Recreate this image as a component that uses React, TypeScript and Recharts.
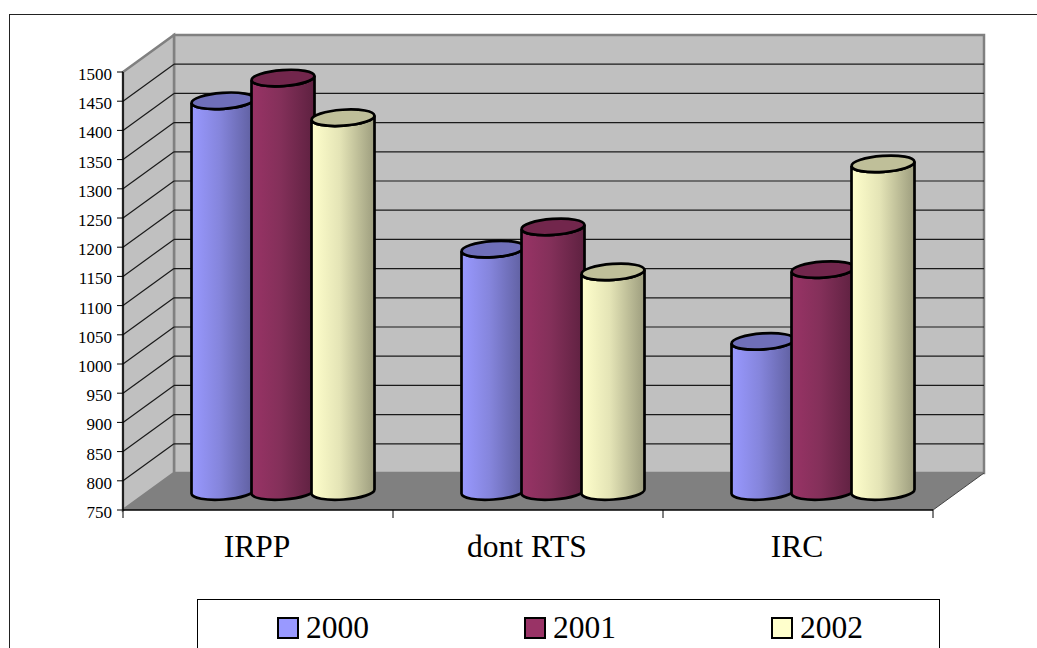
import { Bar, BarChart, CartesianGrid, XAxis, YAxis, usePlotArea } from 'recharts';

const categories = ['IRPP', 'dont RTS', 'IRC'];
const values2000 = [1419, 1165, 1007];
const values2001 = [1458, 1203, 1130];
const values2002 = [1390, 1126, 1311];
const yTicks = [750, 800, 850, 900, 950, 1000, 1050, 1100, 1150, 1200, 1250, 1300, 1350, 1400, 1450, 1500];
const years = ['2000', '2001', '2002'];

const data = categories.map((name, i) => ({
    name,
    y2000: values2000[i],
    y2001: values2001[i],
    y2002: values2002[i],
}));

const FONT = '"Liberation Serif", serif';
const DEPTH_X = 51;
const DEPTH_Y = 37;
const seriesColors = ['#9999FF', '#993366', '#FFFFCC'];
const seriesMid = ['#8585DC', '#84305A', '#E4E4B6'];
const seriesDark = ['#5E5E9E', '#5E2140', '#9D9D7E'];
const topColors = ['#6F6FB9', '#72264C', '#BFBF99'];

// back wall, side wall and floor of the 3D box
const Walls = () => {
    const area = usePlotArea();
    if (!area) return null;
    const { x, y, width, height } = area;
    const bottom = y + height;
    const right = x + width;
    return (
        <g>
            <polygon
                points={`${x + DEPTH_X},${y - DEPTH_Y} ${right + DEPTH_X},${y - DEPTH_Y} ${right + DEPTH_X},${bottom - DEPTH_Y} ${x + DEPTH_X},${bottom - DEPTH_Y}`}
                fill="#C0C0C0"
                stroke="#808080"
                strokeWidth={2.5}
            />
            <polygon
                points={`${x},${y} ${x + DEPTH_X},${y - DEPTH_Y} ${x + DEPTH_X},${bottom - DEPTH_Y} ${x},${bottom}`}
                fill="#C0C0C0"
                stroke="#808080"
                strokeWidth={2.5}
            />
            <polygon
                points={`${x},${bottom} ${x + DEPTH_X},${bottom - DEPTH_Y} ${right + DEPTH_X},${bottom - DEPTH_Y} ${right},${bottom}`}
                fill="#808080"
            />
            <line x1={right} y1={bottom} x2={right + DEPTH_X} y2={bottom - DEPTH_Y} stroke="#444" strokeWidth={1} />
        </g>
    );
};

// one grid line: diagonal on the side wall, then across the back wall
const gridLine = (props: any) => {
    const { x1, x2, y1, index } = props;
    if (index === 0 || index === yTicks.length - 1 || y1 === undefined) return <g key={`grid-${index}`} />;
    return (
        <g key={`grid-${y1}`} stroke="#1a1a1a" strokeWidth={1.2}>
            <line x1={x1} y1={y1} x2={x1 + DEPTH_X} y2={y1 - DEPTH_Y} />
            <line x1={x1 + DEPTH_X} y1={y1 - DEPTH_Y} x2={x2 + DEPTH_X} y2={y1 - DEPTH_Y} />
        </g>
    );
};

const cylinder = (seriesIndex: number) => (props: any) => {
    const { x, y, width, height } = props;
    const cx = x + width / 2 + 25;
    const top = y - 18.5;
    const base = y + height - 18.5;
    const rx = 31.5;
    const ry = 8;
    const tilt = 2.2;
    const body = `M${cx - rx},${top + tilt} L${cx - rx},${base + tilt} A${rx},${ry} -4 0 0 ${cx + rx},${base - tilt} L${cx + rx},${top - tilt} A${rx},${ry} -4 0 1 ${cx - rx},${top + tilt} Z`;
    return (
        <g stroke="#000" strokeWidth={2.7}>
            <path d={body} fill={`url(#grad${seriesIndex})`} />
            <ellipse cx={cx} cy={top} rx={rx} ry={ry} transform={`rotate(-4 ${cx} ${top})`} fill={topColors[seriesIndex]} />
        </g>
    );
};

// category label plus the tick marks, which sit on the band edges
const CategoryTick = (props: any) => {
    const { x, y, payload, index, width } = props;
    const band = width / categories.length;
    const left = x - band / 2;
    return (
        <g>
            <line x1={left} y1={y - 8} x2={left} y2={y} stroke="#000" />
            {index === categories.length - 1 && <line x1={left + band} y1={y - 8} x2={left + band} y2={y} stroke="#000" />}
            <text x={x - 1} y={y + 39} textAnchor="middle" fontFamily={FONT} fontSize={31.5} fill="#000">
                {payload.value}
            </text>
        </g>
    );
};

export default function App() {
    return (
        <div style={{ position: 'fixed', left: 0, top: 0, width: 1037, height: 648, overflow: 'hidden', background: '#fff' }}>
            <div style={{ position: 'absolute', left: 9, top: 14, width: 1040, height: 660, borderLeft: '1.5px solid #222', borderTop: '1.5px solid #222' }} />
            <div style={{ position: 'absolute', left: 0, top: 0 }}>
                <BarChart
                    width={1037}
                    height={648}
                    data={data}
                    margin={{ top: 72, right: 104, bottom: 108, left: 73 }}
                    barCategoryGap={45}
                    barGap={0}
                    style={{ background: 'transparent' }}
                >
                    <defs>
                        {years.map((year, i) => (
                            <linearGradient key={year} id={`grad${i}`} x1="0" y1="0" x2="1" y2="0">
                                <stop offset="0%" stopColor={seriesColors[i]} />
                                <stop offset="45%" stopColor={seriesMid[i]} />
                                <stop offset="100%" stopColor={seriesDark[i]} />
                            </linearGradient>
                        ))}
                    </defs>
                    <Walls />
                    <CartesianGrid vertical={false} horizontal={gridLine} zIndex={1} />
                    <XAxis
                        dataKey="name"
                        height={30}
                        interval={0}
                        tickLine={false}
                        axisLine={{ stroke: '#000', strokeWidth: 1.5 }}
                        tick={<CategoryTick />}
                    />
                    <YAxis
                        width={50}
                        type="number"
                        domain={[750, 1500]}
                        ticks={yTicks}
                        interval={0}
                        tickSize={6}
                        tickMargin={5}
                        axisLine={{ stroke: '#000', strokeWidth: 1.5 }}
                        tickLine={{ stroke: '#000' }}
                        tick={{ fontFamily: FONT, fontSize: 17, fill: '#000', dy: 2 }}
                    />
                    <Bar dataKey="y2000" fill={seriesColors[0]} shape={cylinder(0)} isAnimationActive={false} />
                    <Bar dataKey="y2001" fill={seriesColors[1]} shape={cylinder(1)} isAnimationActive={false} />
                    <Bar dataKey="y2002" fill={seriesColors[2]} shape={cylinder(2)} isAnimationActive={false} />
                </BarChart>
            </div>
            <div style={{ position: 'absolute', left: 197, top: 599, width: 741, height: 80, border: '1px solid #000', background: '#fff' }}>
                {years.map((year, i) => (
                    <div key={year} style={{ position: 'absolute', left: 79 + i * 247, top: 9, display: 'flex', alignItems: 'center', fontFamily: FONT, fontSize: 31.5, lineHeight: '38px' }}>
                        <span style={{ display: 'inline-block', width: 18, height: 18, border: '2.5px solid #000', background: seriesColors[i], marginRight: 7 }} />
                        {year}
                    </div>
                ))}
            </div>
        </div>
    );
}
